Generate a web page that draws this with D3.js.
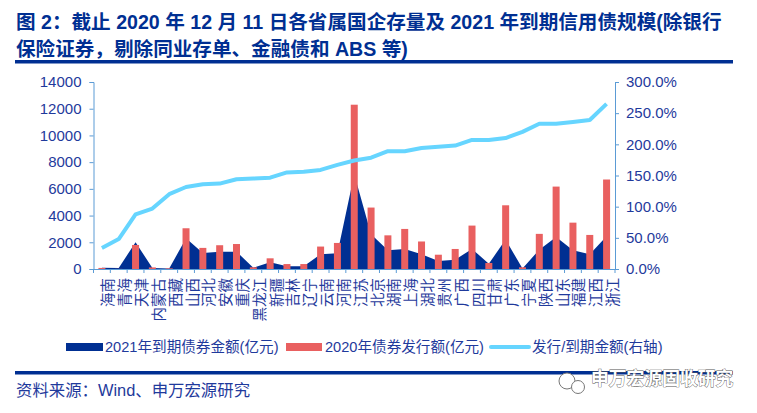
<!DOCTYPE html>
<html>
<head>
<meta charset="utf-8">
<script src="https://cdnjs.cloudflare.com/ajax/libs/d3/7.8.5/d3.min.js"></script>
<style>
  html, body { margin: 0; padding: 0; background: #fff; }
  text { font-family: "Liberation Sans", "Noto Sans CJK SC", sans-serif; }
</style>
</head>
<body>
<svg width="757" height="413"></svg>
<script>
var provinces = ["海南","青海","天津","内蒙古","西藏","山西","河北","安徽","重庆","黑龙江","新疆","吉林","辽宁","云南","河南","江苏","北京","湖南","上海","湖北","贵州","广西","四川","甘肃","广东","宁夏","陕西","山东","福建","江西","浙江"];
var maturity = [100,80,2000,80,30,2300,1200,1300,1300,100,500,200,200,1100,1180,7100,2600,1400,1500,1100,600,700,1500,400,2200,30,1450,2400,1400,1100,2450];
var issuance = [80,10,1800,120,50,3050,1580,1780,1870,130,800,370,370,1680,1950,12300,4600,2520,3000,2060,1070,1500,3250,450,4770,130,2630,6170,3470,2550,6700];
var ratio = [33.7,48,87.7,97,120,131.5,136,137,144,145,146.5,155,156,159,167,174,178.6,189,189,194,196,198,207,207,210,220,233,233,236,239,265];
var leftTicks = [0,2000,4000,6000,8000,10000,12000,14000];
var rightTicks = [0,50,100,150,200,250,300];
var legendLabels = ["2021年到期债券金额(亿元)","2020年债券发行额(亿元)","发行/到期金额(右轴)"];

var navy = "#002F92", red = "#E96060", sky = "#66D5FF", axisBlue = "#5B9BD5", textBlue = "#1F3A9C";

var svg = d3.select("svg");
var left = 93.5, right = 615, top_ = 82, bottom = 269;

var x = d3.scaleBand().domain(provinces).range([left, right]);
var yL = d3.scaleLinear().domain([0, 14000]).range([bottom, top_]);
var yR = d3.scaleLinear().domain([0, 300]).range([bottom, top_]);
var cx = function(i) { return x(provinces[i]) + x.bandwidth() / 2; };

// title + rules
var title = svg.append("g").attr("fill", "#002F92").attr("font-weight", 700);
title.append("text").attr("x", 16).attr("y", 29).style("font-size", "19.6px")
  .text("图 2：截止 2020 年 12 月 11 日各省属国企存量及 2021 年到期信用债规模(除银行");
title.append("text").attr("x", 16).attr("y", 56).style("font-size", "19.6px")
  .text("保险证券，剔除同业存单、金融债和 ABS 等)");
svg.append("rect").attr("x", 15).attr("y", 60).attr("width", 718).attr("height", 3.5).attr("fill", navy);
svg.append("rect").attr("x", 15).attr("y", 371).attr("width", 718).attr("height", 3.5).attr("fill", navy);

// area
svg.append("path")
  .attr("fill", navy)
  .attr("d", d3.area()
    .x(function(d, i) { return cx(i); })
    .y0(bottom)
    .y1(function(d) { return yL(d); })(maturity));

// bars
svg.append("g").selectAll("rect").data(issuance).enter().append("rect")
  .attr("x", function(d, i) { return cx(i) - 3.5; })
  .attr("width", 7)
  .attr("y", function(d) { return yL(d); })
  .attr("height", function(d) { return bottom - yL(d); })
  .attr("fill", red);

// line
svg.append("path")
  .attr("fill", "none")
  .attr("stroke", sky)
  .attr("stroke-width", 4)
  .attr("stroke-linejoin", "round")
  .attr("d", d3.line()
    .x(function(d, i) { return cx(i); })
    .y(function(d) { return yR(d); })(ratio));

// axes
function styleAxis(g) {
  g.selectAll("path").attr("stroke", axisBlue).attr("stroke-width", 1);
  g.selectAll("line").attr("stroke", axisBlue).attr("stroke-width", 1);
  g.selectAll("text").attr("fill", textBlue).style("font-size", "15px")
    .style("font-family", '"Liberation Sans", sans-serif');
}
var axL = svg.append("g").attr("transform", "translate(" + left + ",0)")
  .call(d3.axisLeft(yL).tickValues(leftTicks).tickSize(4).tickSizeOuter(4).tickPadding(8).tickFormat(d3.format("d")));
styleAxis(axL);
var axR = svg.append("g").attr("transform", "translate(" + right + ",0)")
  .call(d3.axisRight(yR).tickValues(rightTicks).tickSize(4).tickSizeOuter(4).tickPadding(7).tickFormat(function(d) { return d.toFixed(1) + "%"; }));
styleAxis(axR);

// x axis, ticks on band edges
var axB = svg.append("g").attr("transform", "translate(0," + bottom + ")")
  .call(d3.axisBottom(x).tickSize(0).tickPadding(0));
axB.selectAll("path").attr("stroke", axisBlue);
axB.selectAll(".tick text").remove();
axB.selectAll("line.edge").data(d3.range(provinces.length + 1)).enter().append("line")
  .attr("class", "edge")
  .attr("x1", function(i) { return left + i * x.step(); })
  .attr("x2", function(i) { return left + i * x.step(); })
  .attr("y1", 0).attr("y2", 4)
  .attr("stroke", axisBlue);

// labels are turned on their side, ending just under the axis
svg.append("g").selectAll("text").data(provinces).enter().append("text")
  .attr("fill", textBlue)
  .attr("text-anchor", "end")
  .attr("dominant-baseline", "central")
  .attr("transform", function(d, i) { return "translate(" + (cx(i) + 5) + ",278) rotate(-90)"; })
  .style("font-size", "14.5px")
  .style("font-family", '"Noto Sans CJK SC", sans-serif')
  .text(function(d) { return d; });

// legend
var legend = svg.append("g");
legend.append("rect").attr("x", 66).attr("y", 343).attr("width", 37).attr("height", 8).attr("fill", navy);
legend.append("rect").attr("x", 286).attr("y", 343).attr("width", 36).attr("height", 8).attr("fill", red);
legend.append("line").attr("x1", 491).attr("x2", 529).attr("y1", 347).attr("y2", 347)
  .attr("stroke", sky).attr("stroke-width", 4).attr("stroke-linecap", "round");
[105, 325, 532].forEach(function(lx, i) {
  legend.append("text").attr("x", lx).attr("y", 352).attr("fill", textBlue)
    .style("font-size", "14.6px").text(legendLabels[i]);
});

// source
svg.append("text").attr("x", 16).attr("y", 396).attr("fill", textBlue)
  .style("font-size", "16.4px").text("资料来源：Wind、申万宏源研究");

// watermark
var wm = svg.append("g");
wm.append("circle").attr("cx", 567).attr("cy", 381).attr("r", 8).attr("fill", "#fff").attr("stroke", "#777").attr("stroke-width", 1);
wm.append("circle").attr("cx", 578).attr("cy", 387).attr("r", 6.5).attr("fill", "#fff").attr("stroke", "#777").attr("stroke-width", 1);
wm.append("text").attr("x", 591).attr("y", 385).attr("fill", "#fff")
  .attr("stroke", "#555").attr("stroke-width", 0.8).attr("paint-order", "stroke")
  .style("font-size", "17.8px").style("font-weight", 700).text("申万宏源固收研究");
</script>
</body>
</html>
